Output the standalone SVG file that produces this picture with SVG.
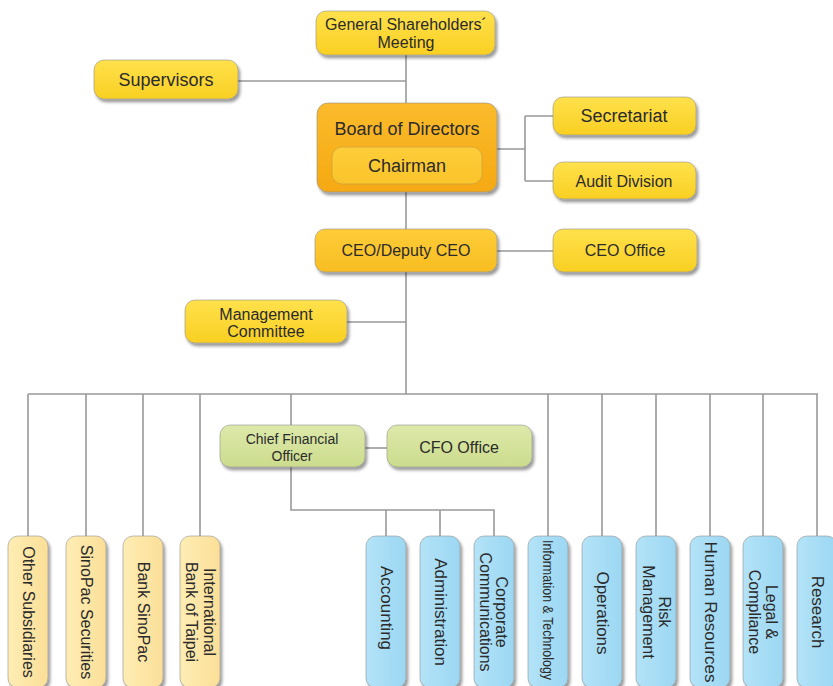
<svg xmlns="http://www.w3.org/2000/svg" width="833" height="686" viewBox="0 0 833 686">
<defs>
<filter id="sh" x="-20%" y="-20%" width="140%" height="140%">
<feDropShadow dx="2" dy="3" stdDeviation="1.8" flood-color="#000" flood-opacity="0.4"/>
</filter>
<linearGradient id="gY" x1="0" y1="0" x2="0" y2="1"><stop offset="0" stop-color="#FFE14C"/><stop offset="1" stop-color="#F9D022"/></linearGradient>
<linearGradient id="gO" x1="0" y1="0" x2="0" y2="1"><stop offset="0" stop-color="#FBBB2C"/><stop offset="1" stop-color="#F5A912"/></linearGradient>
<linearGradient id="gC" x1="0" y1="0" x2="0" y2="1"><stop offset="0" stop-color="#FDCD3A"/><stop offset="1" stop-color="#FAC42A"/></linearGradient>
<linearGradient id="gE" x1="0" y1="0" x2="0" y2="1"><stop offset="0" stop-color="#FECD38"/><stop offset="1" stop-color="#F8BD22"/></linearGradient>
<linearGradient id="gG" x1="0" y1="0" x2="0" y2="1"><stop offset="0" stop-color="#DDE9AA"/><stop offset="1" stop-color="#CCDC8D"/></linearGradient>
<linearGradient id="gB" x1="0" y1="0" x2="1" y2="0"><stop offset="0" stop-color="#B3E3F8"/><stop offset="1" stop-color="#9CD7F2"/></linearGradient>
<linearGradient id="gP" x1="0" y1="0" x2="1" y2="0"><stop offset="0" stop-color="#FEEDB4"/><stop offset="1" stop-color="#FBDF98"/></linearGradient>
</defs>
<style>
.ln{stroke:#999;stroke-width:1.6;fill:none}
.bx{stroke:#8a8a8a;stroke-opacity:0.55;stroke-width:1;filter:url(#sh)}
.y{fill:url(#gY)}.o{fill:url(#gO)}.e{fill:url(#gE)}.g{fill:url(#gG)}.b{fill:url(#gB)}.p{fill:url(#gP)}
.ch{fill:url(#gC);stroke:#C9A040;stroke-opacity:0.7;stroke-width:1}
text{font-family:"Liberation Sans",Arial,sans-serif;fill:#2b2b2b;text-anchor:middle}
.t16{font-size:16px}.t18{font-size:18px}.t14{font-size:14px}.t17{font-size:17px}.t15{font-size:15px}
</style>
<rect width="833" height="686" fill="#fff"/>
<g id="connectors">
<path class="ln" d="M406 55V394"/>
<path class="ln" d="M238 81H406"/>
<path class="ln" d="M497 149H525M525 116V181M525 116H553M525 181H553"/>
<path class="ln" d="M497 251H553"/>
<path class="ln" d="M347 322H406"/>
<path class="ln" d="M28 394H818"/>
<path class="ln" d="M28 394V536M86 394V536M143 394V536M200 394V536M291 394V425M548 394V536M602 394V536M656 394V536M710 394V536M763 394V536M817 394V536"/>
<path class="ln" d="M365 448H387"/>
<path class="ln" d="M291 467V510H494V536M386 510V536M440 510V536"/>
</g>
<g id="general"><rect class="bx y" x="316" y="11" width="179" height="44" rx="10"/><text class="t16" x="406" y="30">General Shareholders´</text><text class="t16" x="406" y="48">Meeting</text></g>
<g id="supervisors"><rect class="bx y" x="94" y="60" width="144" height="39" rx="10"/><text class="t18" x="166" y="86">Supervisors</text></g>
<g id="board"><rect class="bx o" x="317" y="103" width="180" height="89" rx="11"/><text class="t18" x="407" y="135">Board of Directors</text>
<g id="chairman"><rect class="ch" x="332" y="147" width="150" height="37" rx="10"/><text class="t18" x="407" y="172">Chairman</text></g></g>
<g id="secretariat"><rect class="bx y" x="553" y="97" width="143" height="38" rx="10"/><text class="t18" x="624" y="122">Secretariat</text></g>
<g id="audit"><rect class="bx y" x="553" y="162" width="143" height="37" rx="10"/><text class="t16" x="624" y="187">Audit Division</text></g>
<g id="ceo"><rect class="bx e" x="315" y="229" width="182" height="43" rx="10"/><text class="t16" x="406" y="256">CEO/Deputy CEO</text></g>
<g id="ceooffice"><rect class="bx y" x="553" y="229" width="144" height="43" rx="10"/><text class="t16" x="625" y="256">CEO Office</text></g>
<g id="mgmt"><rect class="bx y" x="185" y="300" width="162" height="43" rx="10"/><text class="t16" x="266" y="320">Management</text><text class="t16" x="266" y="337">Committee</text></g>
<g id="cfo"><rect class="bx g" x="220" y="425" width="145" height="42" rx="10"/><text class="t14" x="292" y="444">Chief Financial</text><text class="t14" x="292" y="461">Officer</text></g>
<g id="cfooffice"><rect class="bx g" x="387" y="425" width="145" height="42" rx="10"/><text class="t16" x="459" y="453">CFO Office</text></g>
<g id="other"><rect class="bx p" x="8" y="536" width="40" height="152" rx="10"/><text class="t16" transform="translate(28,612) rotate(90)" y="5.5">Other Subsidiaries</text></g>
<g id="securities"><rect class="bx p" x="66" y="536" width="40" height="152" rx="10"/><text class="t16" transform="translate(86,612) rotate(90)" y="5.5">SinoPac Securities</text></g>
<g id="bank"><rect class="bx p" x="123" y="536" width="40" height="152" rx="10"/><text class="t16" transform="translate(143,612) rotate(90)" y="5.5">Bank SinoPac</text></g>
<g id="ibt"><rect class="bx p" x="180" y="536" width="40" height="152" rx="10"/><text class="t16" transform="translate(200,612) rotate(90)"><tspan x="0" y="-4">International</tspan><tspan x="0" y="14">Bank of Taipei</tspan></text></g>
<g id="accounting"><rect class="bx b" x="366" y="536" width="40" height="152" rx="10"/><text class="t17" transform="translate(386,608) rotate(90)" y="5">Accounting</text></g>
<g id="administration"><rect class="bx b" x="420" y="536" width="40" height="152" rx="10"/><text class="t17" transform="translate(440,612) rotate(90)" y="5">Administration</text></g>
<g id="corpcomm"><rect class="bx b" x="474" y="536" width="40" height="152" rx="10"/><text class="t16" transform="translate(494,612) rotate(90)"><tspan x="0" y="-2">Corporate</tspan><tspan x="0" y="14">Communications</tspan></text></g>
<g id="it"><rect class="bx b" x="528" y="536" width="40" height="152" rx="10"/><text class="t15" transform="translate(548,610) rotate(90) scale(0.83,1)" y="5">Information &amp; Technology</text></g>
<g id="operations"><rect class="bx b" x="582" y="536" width="40" height="152" rx="10"/><text class="t17" transform="translate(602,613) rotate(90)" y="5">Operations</text></g>
<g id="risk"><rect class="bx b" x="636" y="536" width="40" height="152" rx="10"/><text class="t16" transform="translate(656,612) rotate(90)"><tspan x="0" y="-3">Risk</tspan><tspan x="0" y="13">Management</tspan></text></g>
<g id="hr"><rect class="bx b" x="690" y="536" width="40" height="152" rx="10"/><text class="t17" transform="translate(710,612) rotate(90)" y="5.5">Human Resources</text></g>
<g id="legal"><rect class="bx b" x="743" y="536" width="40" height="152" rx="10"/><text class="t16" transform="translate(763,612) rotate(90)"><tspan x="0" y="-3">Legal &amp;</tspan><tspan x="0" y="14">Compliance</tspan></text></g>
<g id="research"><rect class="bx b" x="797" y="536" width="40" height="152" rx="10"/><text class="t17" transform="translate(817,612) rotate(90)" y="5.5">Research</text></g>
</svg>
